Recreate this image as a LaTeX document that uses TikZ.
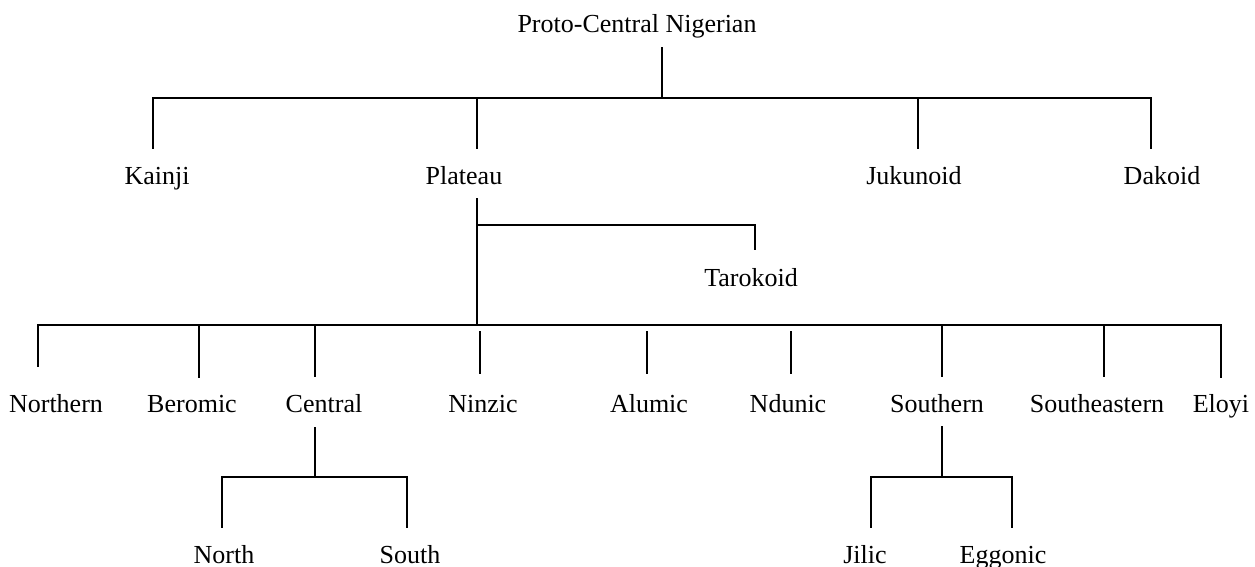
\documentclass[tikz,border=0pt]{standalone}
\usepackage{fontspec}
\setmainfont{Liberation Serif}

\tikzset{
  lang/.style={anchor=base, inner sep=0pt, text height=10pt, text depth=3pt,
    font=\fontsize{13pt}{16pt}\selectfont},
  branch/.style={line width=0.9pt, line cap=rect},
  tick/.style={branch, shorten >=#1},
  tick/.default=8pt
}

\begin{document}
\begin{tikzpicture}[x=0.5pt,y=-0.5pt]
\useasboundingbox (0,0) rectangle (1255,567);

% Proto-Central Nigerian
\node[lang] (pcn) at (637,33) {Proto-Central Nigerian};
\coordinate (pcn-j) at (662,98);
\draw[branch, shorten <=4.5pt] (pcn-j |- pcn.south) -- (pcn-j);

% first split
\node[lang] (kainji) at (157,185) {Kainji};
\node[lang] (plateau) at (464,185) {Plateau};
\node[lang] (jukunoid) at (914,185) {Jukunoid};
\node[lang] (dakoid) at (1162,185) {Dakoid};

\foreach \n/\x in {kainji/153, plateau/477, jukunoid/918, dakoid/1151}
{
\coordinate (\n-top) at (\x,98);
\draw[tick] (\n-top) -- (\n-top |- \n.north);
}
\draw[branch] (kainji-top) -- (dakoid-top);

% Plateau and Tarokoid
\node[lang] (tarokoid) at (751,286) {Tarokoid};
\coordinate (pl-j) at (477,225);
\coordinate (pl-low) at (477,325);
\coordinate (tarokoid-top) at (755,225);
\draw[branch, shorten <=4pt] (plateau-top |- plateau.south) -- (pl-low);
\draw[tick] (pl-j) -- (tarokoid-top) -- (tarokoid-top |- tarokoid.north);

% Plateau groups
\foreach \n/\t/\c in {
northern/Northern/56, beromic/Beromic/192, central/Central/324,
ninzic/Ninzic/483, alumic/Alumic/649, ndunic/Ndunic/788,
southern/Southern/937, southeastern/Southeastern/1097, eloyi/Eloyi/1221
}
{
\node[lang] (\n) at (\c,412) {\t};
}

\foreach \n/\x/\s in {
northern/38/13pt, beromic/199/7.5pt, central/315/8pt,
southern/942/8pt, southeastern/1104/8pt, eloyi/1221/7.5pt
}
{
\coordinate (\n-top) at (\x,325);
\draw[tick=\s] (\n-top) -- (\n-top |- \n.north);
}

% these ticks stop short of the bar
\foreach \n/\x in {ninzic/480, alumic/647, ndunic/791}
{
\coordinate (\n-top) at (\x,325);
\draw[tick=9.5pt, shorten <=3.5pt] (\n-top) -- (\n-top |- \n.north);
}
\draw[branch] (northern-top) -- (eloyi-top);

% Central
\node[lang] (cen-north) at (224,563) {North};
\node[lang] (cen-south) at (410,563) {South};
\coordinate (cen-j) at (315,477);
\draw[branch, shorten <=4.5pt] (cen-j |- central.south) -- (cen-j);
\coordinate (cen-north-top) at (222,477);
\coordinate (cen-south-top) at (407,477);
\draw[tick] (cen-north-top) -- (cen-north-top |- cen-north.north);
\draw[tick] (cen-south-top) -- (cen-south-top |- cen-south.north);
\draw[branch] (cen-north-top) -- (cen-south-top);

% Southern
\node[lang] (jilic) at (865,563) {Jilic};
\node[lang] (eggonic) at (1003,563) {Eggonic};
\coordinate (sou-j) at (942,477);
\draw[branch, shorten <=4pt] (sou-j |- southern.south) -- (sou-j);
\coordinate (jilic-top) at (871,477);
\coordinate (eggonic-top) at (1012,477);
\draw[tick] (jilic-top) -- (jilic-top |- jilic.north);
\draw[tick] (eggonic-top) -- (eggonic-top |- eggonic.north);
\draw[branch] (jilic-top) -- (eggonic-top);

\end{tikzpicture}
\end{document}
